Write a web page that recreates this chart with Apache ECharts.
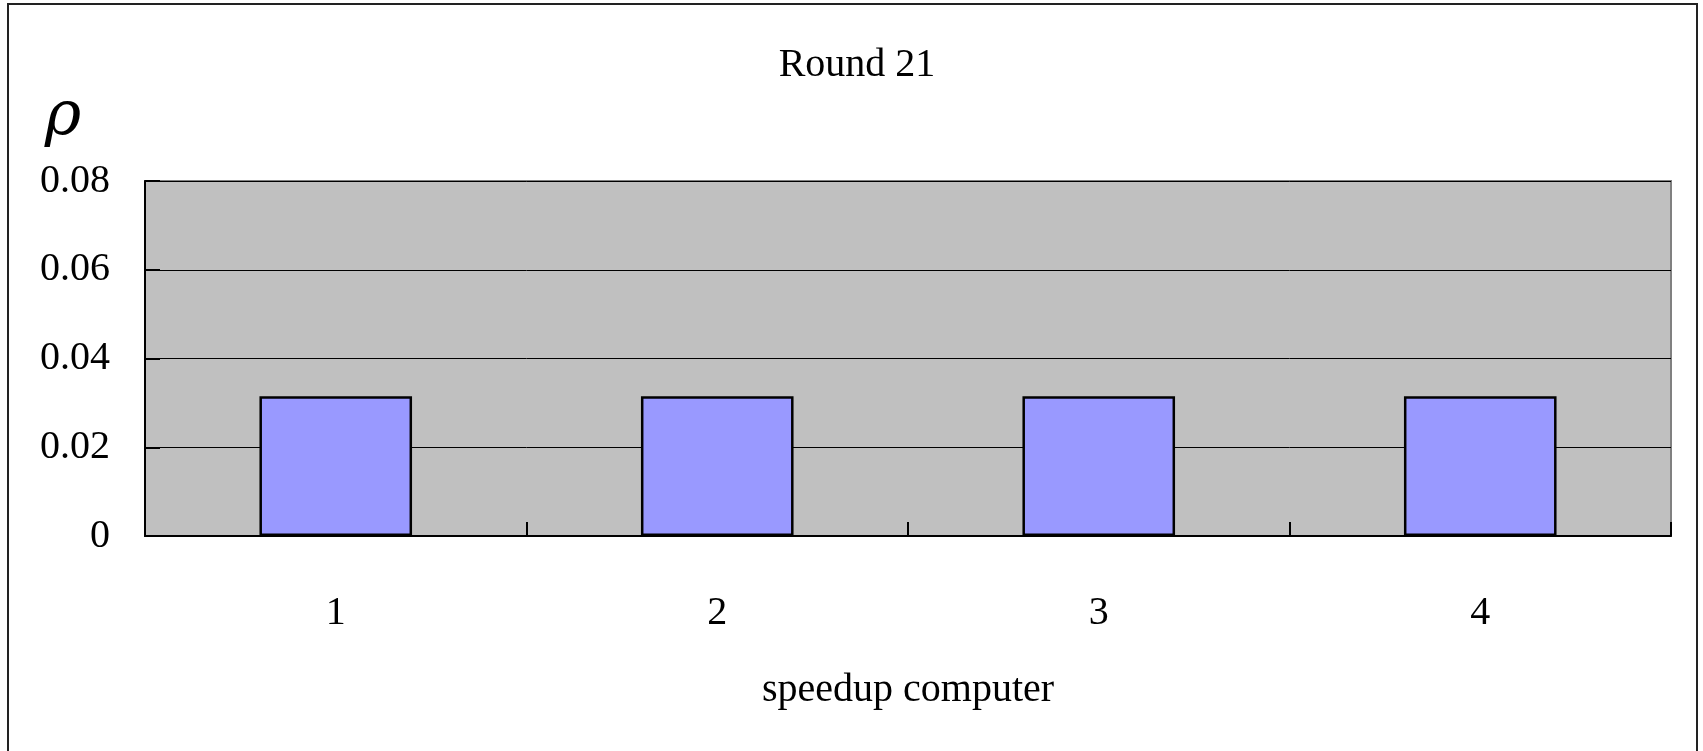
<!DOCTYPE html>
<html>
<head>
<meta charset="utf-8">
<script src="https://cdn.jsdelivr.net/npm/echarts@6/dist/echarts.min.js"></script>
<style>
  html, body { margin: 0; padding: 0; background: #ffffff; }
  #chart { width: 1703px; height: 751px; }
</style>
</head>
<body>
<div id="chart"></div>
<script>
// Probability of each speedup computer being chosen in round 21
const chartTitle = 'Round 21';
const categories = ['1', '2', '3', '4'];
const rhoValues = [0.0315, 0.0315, 0.0315, 0.0315];
const yTicks = { min: 0, max: 0.08, interval: 0.02 };
const xAxisName = 'speedup computer';
const yAxisSymbol = 'ρ';

const serif = '"Liberation Serif", "Times New Roman", serif';

const chart = echarts.init(document.getElementById('chart'), null, { renderer: 'canvas' });

chart.setOption({
  animation: false,
  backgroundColor: '#ffffff',
  title: {
    text: chartTitle,
    left: 852,
    textAlign: 'center',
    top: 40,
    textStyle: { fontFamily: serif, fontSize: 40, fontWeight: 'normal', color: '#000' }
  },
  graphic: [
    {
      type: 'rect',
      shape: { x: 8, y: 4, width: 1689, height: 780 },
      style: { fill: 'none', stroke: '#222', lineWidth: 2 },
      silent: true
    },
    {
      type: 'text',
      x: 63,
      y: 118,
      style: {
        text: yAxisSymbol,
        font: 'italic 62px "DejaVu Serif", serif',
        fill: '#000',
        textAlign: 'center',
        textVerticalAlign: 'middle'
      }
    }
  ],
  grid: {
    left: 145,
    right: 32,
    top: 181,
    bottom: 215,
    show: true,
    backgroundColor: '#C0C0C0',
    borderColor: '#808080',
    borderWidth: 2
  },
  xAxis: {
    type: 'category',
    data: categories,
    name: xAxisName,
    nameLocation: 'middle',
    nameGap: 134,
    nameTextStyle: { fontFamily: serif, fontSize: 40, color: '#000' },
    axisLine: { show: true, lineStyle: { color: '#000', width: 2 } },
    axisTick: { show: true, inside: true, length: 14, lineStyle: { color: '#000', width: 2 } },
    axisLabel: { margin: 57, fontFamily: serif, fontSize: 40, color: '#000' },
    splitLine: { show: false }
  },
  yAxis: {
    type: 'value',
    min: yTicks.min,
    max: yTicks.max,
    interval: yTicks.interval,
    axisLine: { show: true, lineStyle: { color: '#000', width: 2 } },
    axisTick: { show: true, inside: true, length: 15, lineStyle: { color: '#000', width: 2 } },
    axisLabel: {
      margin: 35,
      fontFamily: serif,
      fontSize: 40,
      color: '#000',
      formatter: v => (v === 0 ? '0' : v.toFixed(2))
    },
    splitLine: { show: true, lineStyle: { color: '#000', width: 1 } }
  },
  series: [
    {
      type: 'bar',
      data: rhoValues,
      barWidth: '40%',
      itemStyle: { color: '#9999FF', borderColor: '#000', borderWidth: 2.5 }
    }
  ]
});
</script>
</body>
</html>
